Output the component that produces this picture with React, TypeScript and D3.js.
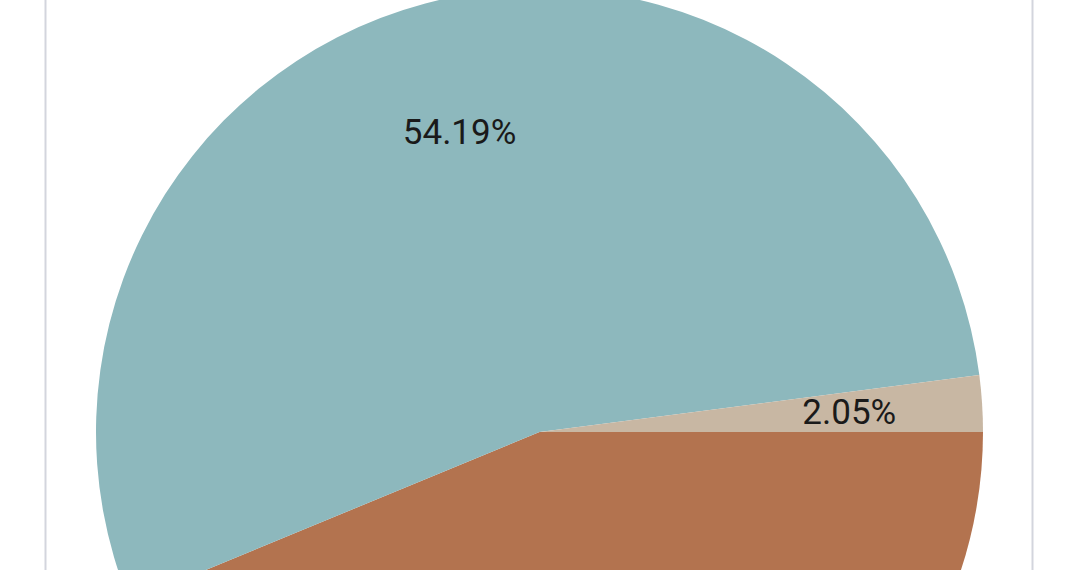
import React from "react";
import * as d3 from "d3";

const categories = ["Brown", "Teal", "Tan"];
const values = [43.76, 54.19, 2.05];
const labels = ["43.76%", "54.19%", "2.05%"];
const colors = ["#b3734f", "#8db8bd", "#c8b7a3"];

export default function App() {
  const W = 1080;
  const H = 570;
  const cx = 539.5;
  const cy = 432;
  const r = 443.5;
  const data = categories.map((c, i) => ({ c, v: values[i], label: labels[i], color: colors[i] }));
  const pie = d3
    .pie<any>()
    .sort(null)
    .value((d: any) => d.v)
    .startAngle(Math.PI / 2)
    .endAngle(Math.PI / 2 + 2 * Math.PI);
  const arcs = pie(data);
  const arc = d3.arc<any>().innerRadius(0).outerRadius(r);
  const labelArc = d3.arc<any>().innerRadius(r * 0.7).outerRadius(r * 0.7);
  return (
    <svg
      width={W}
      height={H}
      style={{ position: "fixed", left: 0, top: 0, background: "#fff" }}
    >
      <rect x={0} y={0} width={W} height={H} fill="#fff" />
      <line x1={45.5} x2={45.5} y1={0} y2={H} stroke="#d3d5dd" strokeWidth={2} />
      <line x1={1032.5} x2={1032.5} y1={0} y2={H} stroke="#d3d5dd" strokeWidth={2} />
      <g transform={`translate(${cx},${cy})`}>
        {arcs.map((a, i) => (
          <path key={i} d={arc(a) as string} fill={a.data.color} />
        ))}
        {arcs.map((a, i) => {
          const [x, y] = labelArc.centroid(a);
          if (cy + y - 20 > H) return null;
          return (
            <text
              key={"t" + i}
              x={x}
              y={y}
              textAnchor="middle"
              dominantBaseline="central"
              fontFamily="Roboto"
              fontSize={35}
              fill="#1a1a1a"
            >
              {a.data.label}
            </text>
          );
        })}
      </g>
    </svg>
  );
}
